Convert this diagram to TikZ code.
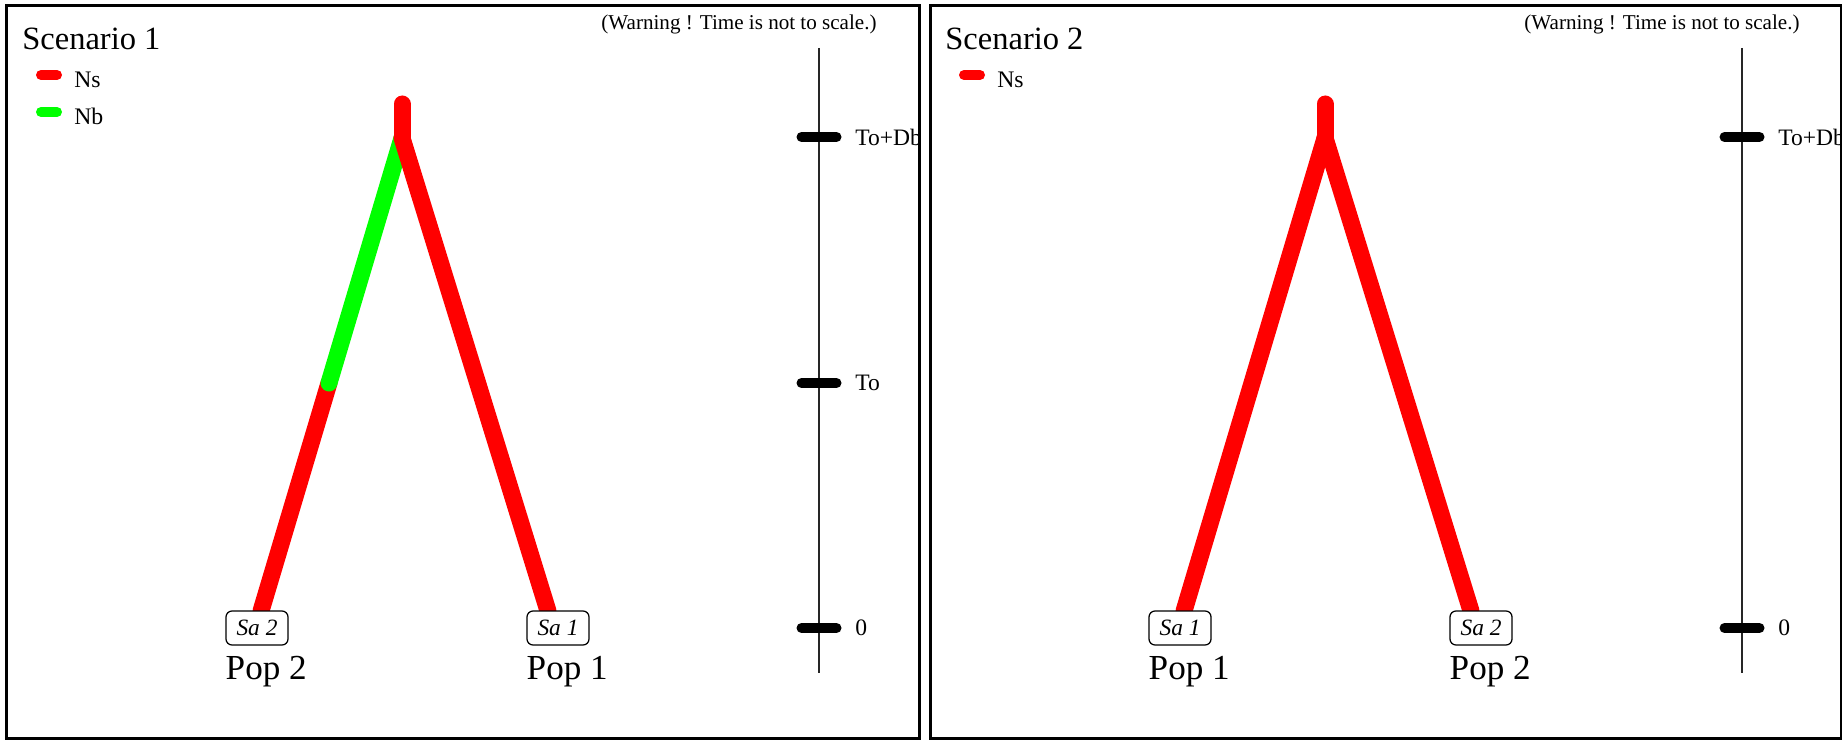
\documentclass[tikz,border=0pt]{standalone}
\usepackage{fontspec}
\setmainfont{Liberation Serif}
\usetikzlibrary{positioning}
\definecolor{nsred}{HTML}{FF0000}
\definecolor{nbgreen}{HTML}{00FF00}

\begin{document}
\begin{tikzpicture}[
  panel/.style={draw=black, line width=0.06cm},
  branch/.style={line width=0.34cm, line cap=round},
  legendbar/.style={line width=0.2cm, line cap=round},
  timeaxis/.style={draw=black!85, line width=0.035cm},
  tickmark/.style={line width=0.2cm, line cap=round},
  titletext/.style={inner sep=0pt, font=\fontsize{18.5}{22}\selectfont},
  legendtext/.style={inner sep=0pt, font=\fontsize{13.5}{16}\selectfont},
  warntext/.style={inner sep=0pt, font=\fontsize{12}{14}\selectfont},
  ticklabel/.style={inner sep=0pt, font=\fontsize{13.4}{16}\selectfont},
  sabox/.style={draw, fill=white, rounded corners=0.12cm, line width=0.025cm,
    minimum width=1.24cm, minimum height=0.68cm, inner sep=0pt,
    font=\fontsize{13.3}{15}\selectfont\itshape},
  poplabel/.style={inner sep=0pt, font=\fontsize{20}{24}\selectfont}
]

% Frame
\useasboundingbox (0,0) rectangle (36.84,14.86);
\clip (0,0) rectangle (36.84,14.86);

%% LEFT PANEL: Scenario 1
\draw[panel] (0.13,0.10) rectangle (18.38,14.74);
\node[titletext, anchor=base west] (title1) at (0.44,13.86) {Scenario 1};

% Legend
\draw[legendbar, nsred] (0.82,13.36) -- (1.14,13.36);
\node[legendtext, anchor=base west] (ns1) at (1.48,13.10) {Ns};
\draw[legendbar, nbgreen] (0.82,12.62) -- (1.14,12.62);
\node[legendtext, anchor=base west] (nb1) at (1.48,12.36) {Nb};

% Time axis
\node[warntext, anchor=base] (warn1) at (14.78,14.26) {(Warning ! Time is not to scale.)};
\coordinate (axtop1) at (16.38,13.90);
\coordinate (axbot1) at (16.38,1.40);
\draw[timeaxis] (axtop1) -- (axbot1);
\coordinate (tdb1) at (16.38,12.12);
\coordinate (to1) at (16.38,7.20);
\coordinate (zero1) at (16.38,2.30);
\draw[tickmark] ([xshift=-0.35cm]tdb1) -- ([xshift=0.35cm]tdb1);
\draw[tickmark] ([xshift=-0.35cm]to1) -- ([xshift=0.35cm]to1);
\draw[tickmark] ([xshift=-0.35cm]zero1) -- ([xshift=0.35cm]zero1);
\node[ticklabel, right=0.72cm of tdb1] (ltdb1) {To+Db};
\node[ticklabel, right=0.72cm of to1] (lto1) {To};
\node[ticklabel, right=0.72cm of zero1] (lzero1) {0};

% Tree (green part of the left branch between To and To+Db)
\coordinate (root1) at (8.04,12.78);
\coordinate (junc1) at (8.04,12.10);
\coordinate (mid1) at (6.58,7.20);
\coordinate (footl1) at (5.22,2.64);
\coordinate (footr1) at (10.96,2.64);
\draw[branch, nsred] (mid1) -- (footl1);
\draw[branch, nbgreen] (junc1) -- (mid1);
\draw[branch, nsred] (junc1) -- (footr1);
\draw[branch, nsred] (root1) -- (junc1);

% Samples
\node[sabox] (sa2s1) at (5.14,2.30) {Sa 2};
\node[sabox] (sa1s1) at (11.16,2.30) {Sa 1};
\node[poplabel, below=0.2cm of sa2s1.south west, anchor=north west] (pop2s1) {Pop 2};
\node[poplabel, below=0.2cm of sa1s1.south west, anchor=north west] (pop1s1) {Pop 1};

%% RIGHT PANEL: Scenario 2
\draw[panel] (18.60,0.10) rectangle (36.82,14.74);
\node[titletext, anchor=base west] (title2) at (18.90,13.86) {Scenario 2};

% Legend
\draw[legendbar, nsred] (19.28,13.36) -- (19.60,13.36);
\node[legendtext, anchor=base west] (ns2) at (19.94,13.10) {Ns};

% Time axis
\node[warntext, anchor=base] (warn2) at (33.24,14.26) {(Warning ! Time is not to scale.)};
\coordinate (axtop2) at (34.84,13.90);
\coordinate (axbot2) at (34.84,1.40);
\draw[timeaxis] (axtop2) -- (axbot2);
\coordinate (tdb2) at (34.84,12.12);
\coordinate (zero2) at (34.84,2.30);
\draw[tickmark] ([xshift=-0.35cm]tdb2) -- ([xshift=0.35cm]tdb2);
\draw[tickmark] ([xshift=-0.35cm]zero2) -- ([xshift=0.35cm]zero2);
\node[ticklabel, right=0.72cm of tdb2] (ltdb2) {To+Db};
\node[ticklabel, right=0.72cm of zero2] (lzero2) {0};

% Tree
\coordinate (root2) at (26.50,12.78);
\coordinate (junc2) at (26.50,12.10);
\coordinate (footl2) at (23.68,2.64);
\coordinate (footr2) at (29.42,2.64);
\draw[branch, nsred] (junc2) -- (footl2);
\draw[branch, nsred] (junc2) -- (footr2);
\draw[branch, nsred] (root2) -- (junc2);

% Samples
\node[sabox] (sa1s2) at (23.60,2.30) {Sa 1};
\node[sabox] (sa2s2) at (29.62,2.30) {Sa 2};
\node[poplabel, below=0.2cm of sa1s2.south west, anchor=north west] (pop1s2) {Pop 1};
\node[poplabel, below=0.2cm of sa2s2.south west, anchor=north west] (pop2s2) {Pop 2};

\end{tikzpicture}
\end{document}
